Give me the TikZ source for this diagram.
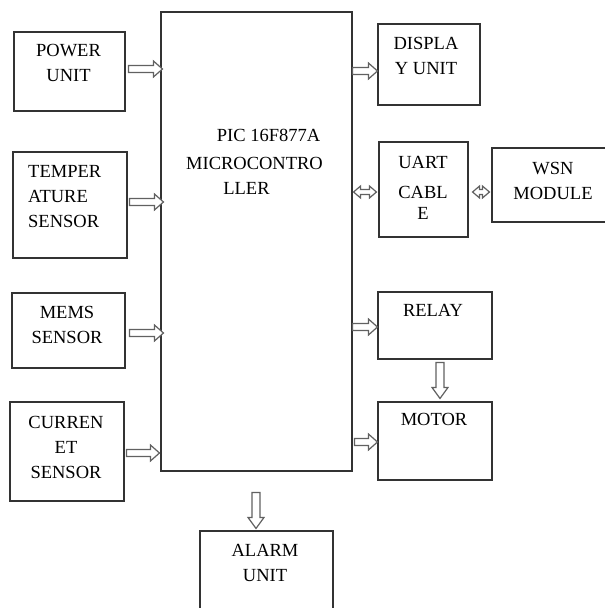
\documentclass[tikz,border=0pt]{standalone}
\usepackage{fontspec}
\setmainfont{Liberation Serif}
\usetikzlibrary{calc}
\newcommand\harr[3]{\draw[blk] let \p1=#1, \p2=#2, \p3=(0,#3) in
 (\x1,\y3+3.5pt) -- (\x2-9pt,\y3+3.5pt) -- (\x2-9pt,\y3+8pt) -- (\x2,\y3) -- (\x2-9pt,\y3-8pt) -- (\x2-9pt,\y3-3.5pt) -- (\x1,\y3-3.5pt) -- cycle;}
\newcommand\varr[3]{\draw[blk] let \p1=#1, \p2=#2, \p3=(#3,0) in
 (\x3-4pt,\y1) -- (\x3-4pt,\y2+11pt) -- (\x3-8pt,\y2+11pt) -- (\x3,\y2) -- (\x3+8pt,\y2+11pt) -- (\x3+4pt,\y2+11pt) -- (\x3+4pt,\y1) -- cycle;}
\newcommand\darr[3]{\draw[blk] let \p1=#1, \p2=#2, \p3=(0,#3) in
 (\x1,\y3) -- (\x1+7pt,\y3+6pt) -- (\x1+7pt,\y3+2.5pt) -- (\x2-7pt,\y3+2.5pt) -- (\x2-7pt,\y3+6pt) -- (\x2,\y3) -- (\x2-7pt,\y3-6pt) -- (\x2-7pt,\y3-2.5pt) -- (\x1+7pt,\y3-2.5pt) -- (\x1+7pt,\y3-6pt) -- cycle;}
\begin{document}
\begin{tikzpicture}[x=1pt,y=-1pt,
  box/.style={draw=black!80, line width=1.1pt, inner sep=0pt},
  lbl/.style={font=\fontsize{18.5}{25}\selectfont, inner sep=0pt, align=center, anchor=north, text=black},
  blk/.style={draw=black!62, line width=1.2pt, fill=white, line join=miter}]
\useasboundingbox (0,0) rectangle (605,608);
% boxes
\node[box, minimum width=111pt, minimum height=79pt] (power) at (69.5,71.5) {};
\node[box, minimum width=114pt, minimum height=106pt] (temp) at (70,205) {};
\node[box, minimum width=113pt, minimum height=75pt] (mems) at (68.5,330.5) {};
\node[box, minimum width=114pt, minimum height=99pt] (curr) at (67,451.5) {};
\node[box, minimum width=191pt, minimum height=459pt] (main) at (256.5,241.5) {};
\node[box, minimum width=102pt, minimum height=81pt] (disp) at (429,64.5) {};
\node[box, minimum width=89pt, minimum height=95pt] (uart) at (423.5,189.5) {};
\node[box, minimum width=128pt, minimum height=74pt] (wsn) at (556,185) {};
\node[box, minimum width=114pt, minimum height=67pt] (relay) at (435,325.5) {};
\node[box, minimum width=114pt, minimum height=78pt] (motor) at (435,441) {};
\node[box, minimum width=133pt, minimum height=89pt] (alarm) at (266.5,575.5) {};
% texts
\node[lbl] (powerT) at (68.5,44) {POWER\\UNIT};
\node[lbl, align=left, anchor=north west] (tempT) at (28,165) {TEMPER\\ATURE\\SENSOR};
\node[lbl] (memsT) at (67,306) {MEMS\\SENSOR};
\node[lbl] (currT) at (66,416) {CURREN\\ET\\SENSOR};
\node[lbl] (mainT1) at (268.5,129) {PIC 16F877A};
\node[lbl] (mainT2) at (254.5,157) {MICROCONTRO};
\node[lbl] (mainT3) at (246.5,182) {LLER};
\node[lbl] (dispT) at (426,37) {DISPLA\\Y UNIT};
\node[lbl] (uartT) at (423,156) {UART\\[5pt]CABL\\[-4pt]E};
\node[lbl] (wsnT) at (553,162) {WSN\\MODULE};
\node[lbl] (relayT) at (433,304) {RELAY};
\node[lbl] (motorT) at (434,413) {MOTOR};
\node[lbl] (alarmT) at (265,544) {ALARM\\UNIT};
% arrows
\harr{($(power.east)+(3,0)$)}{($(main.west)+(2,0)$)}{69}
\harr{($(temp.east)+(2,0)$)}{($(main.west)+(3,0)$)}{202}
\harr{($(mems.east)+(4,0)$)}{($(main.west)+(3,0)$)}{333}
\harr{($(curr.east)+(2,0)$)}{($(main.west)+(-1,0)$)}{453}
\harr{(main.east)}{(disp.west)}{71}
\harr{(main.east)}{(relay.west)}{327}
\harr{($(main.east)+(2,0)$)}{(motor.west)}{442}
\darr{($(main.east)+(1,0)$)}{($(uart.west)+(-2,0)$)}{192}
\darr{($(uart.east)+(4,0)$)}{($(wsn.west)+(-2,0)$)}{192}
\varr{($(relay.south)+(0,3)$)}{($(motor.north)+(0,-3)$)}{440}
\varr{($(main.south)+(0,21)$)}{($(alarm.north)+(0,-2)$)}{256}
\end{tikzpicture}
\end{document}
